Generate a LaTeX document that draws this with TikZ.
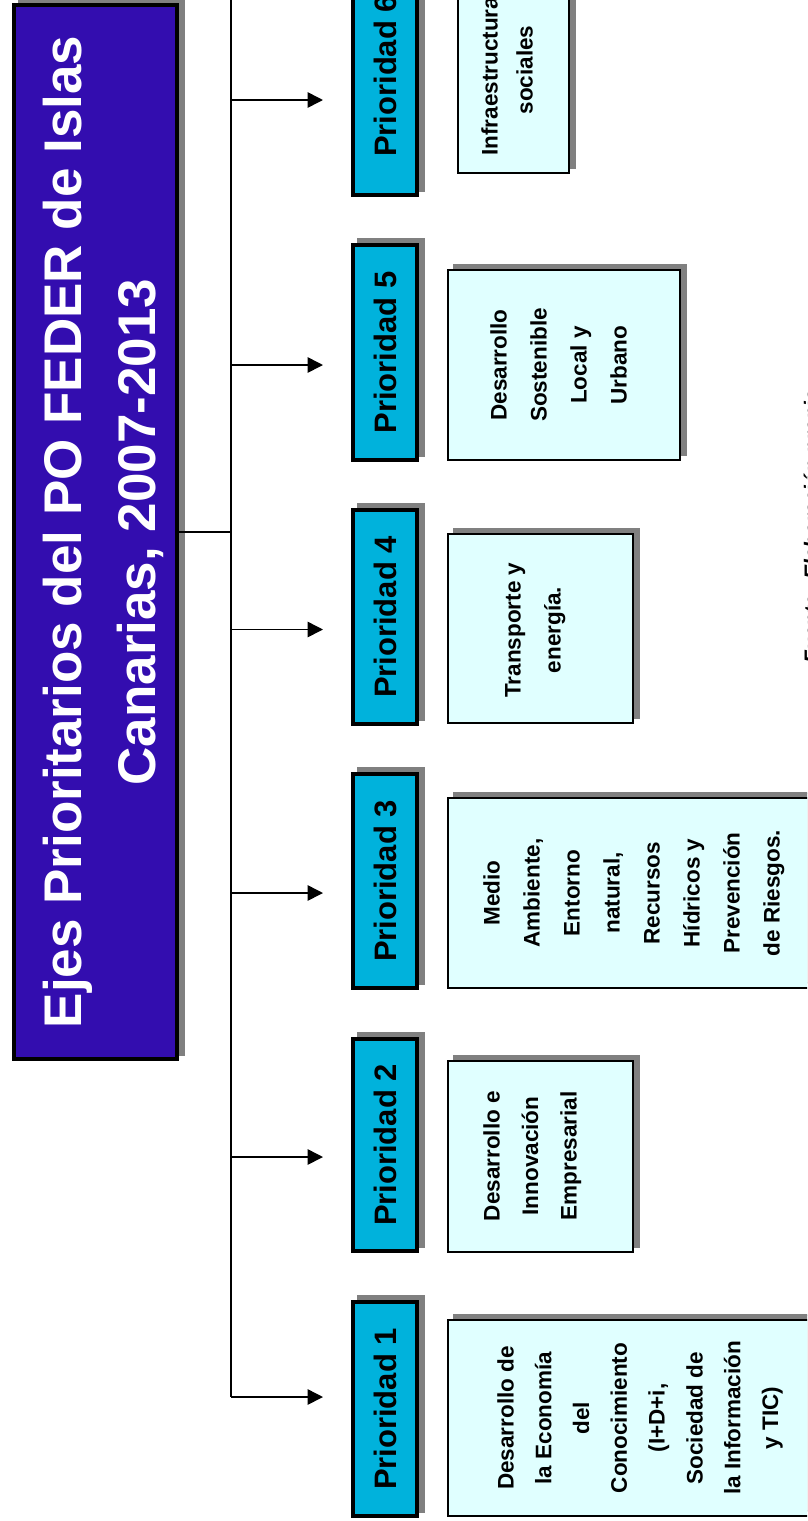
\documentclass[tikz,border=0pt]{standalone}
\usepackage{fontspec}
\setmainfont{Liberation Sans}
\usetikzlibrary{arrows.meta}
\definecolor{titlefill}{RGB}{51,13,175}
\definecolor{priofill}{RGB}{0,178,220}
\definecolor{descfill}{RGB}{224,255,255}
\definecolor{shadowgray}{RGB}{128,128,128}
\begin{document}
\begin{tikzpicture}[x=1pt,y=-1pt,
  shadowed/.style={preaction={draw=shadowgray, fill=shadowgray, transform canvas={shift={(6pt,5pt)}}}},
  titlebox/.style={draw=black, line width=4pt, fill=titlefill, shadowed, inner sep=0pt, minimum width=163pt, minimum height=1054pt},
  priobox/.style={draw=black, line width=4pt, fill=priofill, shadowed, inner sep=0pt, minimum width=64pt},
  descbox/.style={draw=black, line width=2pt, fill=descfill, shadowed, inner sep=0pt},
  titletext/.style={rotate=90, anchor=north, inner sep=0pt, align=center, text=white, font=\fontsize{53}{74}\selectfont\bfseries},
  priolabel/.style={rotate=90, inner sep=0pt, font=\fontsize{31}{36}\selectfont\bfseries},
  desctext/.style={rotate=90, anchor=north, inner sep=0pt, align=center, font=\fontsize{22.5}{#1}\selectfont\bfseries},
  conn/.style={draw=black, line width=1.6pt},
  arr/.style={conn, -{Triangle[length=15.5pt, width=15.5pt]}}
]
\useasboundingbox (0,0) rectangle (807,1521);
\clip (0,0) rectangle (807,1521);

% title
\node[titlebox] (title) at (95.5,532) {};
\node[titletext] (ttext) at (42.5,532) {Ejes Prioritarios del PO FEDER de Islas\\Canarias, 2007-2013};

% priority boxes
\node[priobox, minimum height=243pt] (p6) at (385,73.5) {};
\node[priobox, minimum height=215pt] (p5) at (385,352.5) {};
\node[priobox, minimum height=214pt] (p4) at (385,617) {};
\node[priobox, minimum height=214pt] (p3) at (385,881) {};
\node[priobox, minimum height=212pt] (p2) at (385,1145) {};
\node[priobox, minimum height=214pt] (p1) at (385,1409) {};

\node[priolabel] (l6) at (385,76) {Prioridad 6};
\node[priolabel] (l5) at (p5.center) {Prioridad 5};
\node[priolabel] (l4) at (p4.center) {Prioridad 4};
\node[priolabel] (l3) at (p3.center) {Prioridad 3};
\node[priolabel] (l2) at (p2.center) {Prioridad 2};
\node[priolabel] (l1) at (p1.center) {Prioridad 1};

% description boxes
\node[descbox, minimum width=111pt, minimum height=251pt] (d6) at (513.5,47.5) {};
\node[descbox, minimum width=232pt, minimum height=190pt] (d5) at (564,365) {};
\node[descbox, minimum width=185pt, minimum height=189pt] (d4) at (540.5,628.5) {};
\node[descbox, minimum width=381pt, minimum height=190pt] (d3) at (638.5,893) {};
\node[descbox, minimum width=185pt, minimum height=191pt] (d2) at (540.5,1156.5) {};
\node[descbox, minimum width=381pt, minimum height=196pt] (d1) at (638.5,1418) {};

\node[desctext=35] (t6) at (481,70) {Infraestructuras\\sociales};
\node[desctext=40] (t5) at (490,365) {Desarrollo\\Sostenible\\Local y\\Urbano};
\node[desctext=40] (t4) at (505,630) {Transporte y\\energía.};
\node[desctext=40] (t3) at (483,893) {Medio\\Ambiente,\\Entorno\\natural,\\Recursos\\Hídricos y\\Prevención\\de Riesgos.};
\node[desctext=38.5] (t2) at (483,1156) {Desarrollo e\\Innovación\\Empresarial};
\node[desctext=37.8] (t1) at (497,1418) {Desarrollo de\\la Economía\\del\\Conocimiento\\(I+D+i,\\Sociedad de\\la Información\\y TIC)};

% footer (mostly outside the cropped page, as in the reference)
\node[rotate=90, anchor=base, inner sep=0pt, font=\fontsize{21}{24}\selectfont\bfseries\itshape] (src) at (819,526.5) {Fuente: Elaboración propia};

% connectors
\coordinate (ttop) at (231,-5);
\coordinate (tbot) at (231,1397);
\draw[conn] (ttop) -- (tbot);
\draw[conn] (title.east) -- (title.east -| ttop);
\coordinate (e6) at (323,100);
\coordinate (e5) at (323,365);
\coordinate (e4) at (323,629.5);
\coordinate (e3) at (323,893);
\coordinate (e2) at (323,1157);
\coordinate (e1) at (323,1397);
\foreach \e in {e6,e5,e4,e3,e2,e1}
  \draw[arr] (ttop |- \e) -- (\e);
\end{tikzpicture}
\end{document}
